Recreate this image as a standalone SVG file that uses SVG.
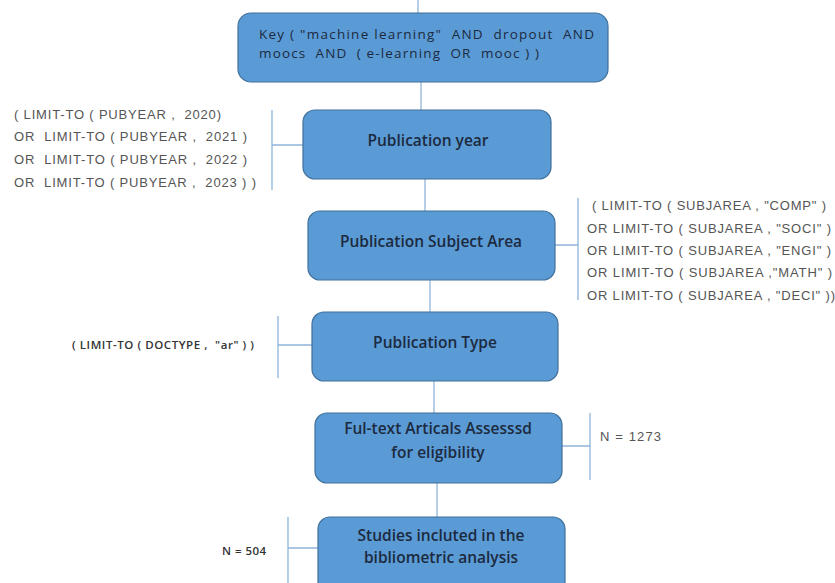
<svg xmlns="http://www.w3.org/2000/svg" width="835" height="583" viewBox="0 0 835 583">
<style>
.box{fill:#5b9bd5;stroke:#41719c;stroke-width:1.2}
.lt{font-family:"Open Sans","Liberation Sans",sans-serif;font-size:15.5px;font-weight:600;fill:#1c2a40;text-anchor:middle}
.kt{font-family:"Open Sans","Liberation Sans",sans-serif;font-size:13.5px;font-weight:400;fill:#1c2a40;white-space:pre}
.st{font-family:"Liberation Sans",Arial,sans-serif;font-size:13px;fill:#555;white-space:pre}
.dt{font-family:"Open Sans","Liberation Sans",sans-serif;font-size:11.5px;font-weight:600;fill:#333;white-space:pre}
.ln{stroke:#8fb4d9;stroke-width:1.3;fill:none}
</style>
<rect width="835" height="583" fill="#fff"/>
<g id="connectors" class="ln">
<path d="M418 0V13"/>
<path d="M421 82V110"/>
<path d="M425 179V211"/>
<path d="M430 280V312"/>
<path d="M434 381V413"/>
<path d="M437 483V517"/>
<path d="M272 110V190M272 145H303"/>
<path d="M578 198V300M555 245H578"/>
<path d="M278 316V378M278 345H312"/>
<path d="M590 413V480M562 446H590"/>
<path d="M288 517V583M288 548H318"/>
</g>
<g id="key">
<rect class="box" x="238" y="13" width="370" height="69" rx="13"/>
<text class="kt" x="259" y="39" textLength="335">Key ( "machine learning"  AND  dropout  AND</text>
<text class="kt" x="259" y="58" textLength="280">moocs  AND  ( e-learning  OR  mooc ) )</text>
</g>
<g id="pubyear">
<rect class="box" x="303" y="110" width="248" height="69" rx="12"/>
<text class="lt" x="428" y="146">Publication year</text>
</g>
<g id="pubyear-filter">
<text class="st" x="14" y="119" textLength="207">( LIMIT-TO ( PUBYEAR ,  2020)</text>
<text class="st" x="14" y="141" textLength="233">OR  LIMIT-TO ( PUBYEAR ,  2021 )</text>
<text class="st" x="14" y="164" textLength="233">OR  LIMIT-TO ( PUBYEAR ,  2022 )</text>
<text class="st" x="14" y="187" textLength="242">OR  LIMIT-TO ( PUBYEAR ,  2023 ) )</text>
</g>
<g id="subject">
<rect class="box" x="308" y="211" width="247" height="69" rx="12"/>
<text class="lt" x="431" y="247">Publication Subject Area</text>
</g>
<g id="subject-filter">
<text class="st" x="592" y="210" textLength="234">( LIMIT-TO ( SUBJAREA , "COMP" )</text>
<text class="st" x="587" y="233" textLength="244">OR LIMIT-TO ( SUBJAREA , "SOCI" )</text>
<text class="st" x="587" y="255" textLength="244">OR LIMIT-TO ( SUBJAREA , "ENGI" )</text>
<text class="st" x="587" y="277" textLength="245">OR LIMIT-TO ( SUBJAREA ,"MATH" )</text>
<text class="st" x="587" y="300" textLength="248">OR LIMIT-TO ( SUBJAREA , "DECI" ))</text>
</g>
<g id="pubtype">
<rect class="box" x="312" y="312" width="246" height="69" rx="12"/>
<text class="lt" x="435" y="348">Publication Type</text>
</g>
<g id="pubtype-filter">
<text class="dt" x="72" y="349" textLength="182">( LIMIT-TO ( DOCTYPE ,  "ar" ) )</text>
</g>
<g id="fulltext">
<rect class="box" x="315" y="413" width="247" height="70" rx="12"/>
<text class="lt" x="438" y="434">Ful-text Articals Assesssd</text>
<text class="lt" x="438" y="458">for eligibility</text>
</g>
<g id="n1273">
<text class="st" x="600" y="441" textLength="61">N = 1273</text>
</g>
<g id="included">
<rect class="box" x="318" y="517" width="247" height="80" rx="12"/>
<text class="lt" x="441" y="541">Studies incluted in the</text>
<text class="lt" x="441" y="563">bibliometric analysis</text>
</g>
<g id="n504">
<text class="dt" x="222" y="555" textLength="44">N = 504</text>
</g>
</svg>
